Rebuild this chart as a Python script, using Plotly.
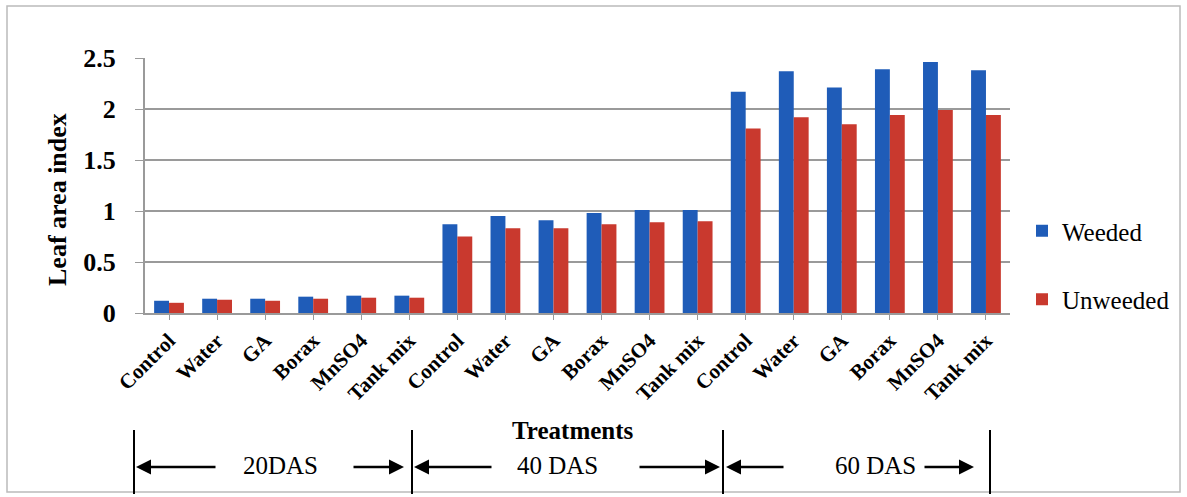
import plotly.graph_objects as go

treatments = ["Control", "Water", "GA", "Borax", "MnSO4", "Tank mix"]
periods = ["20DAS", "40 DAS", "60 DAS"]
tick_labels = treatments * 3

weeded = [0.12, 0.14, 0.14, 0.16, 0.17, 0.17,
          0.87, 0.95, 0.91, 0.98, 1.01, 1.01,
          2.17, 2.37, 2.21, 2.39, 2.46, 2.38]
unweeded = [0.10, 0.13, 0.12, 0.14, 0.15, 0.15,
            0.75, 0.83, 0.83, 0.87, 0.89, 0.90,
            1.81, 1.92, 1.85, 1.94, 1.99, 1.94]

xpos = list(range(len(tick_labels)))
FONT = "Liberation Serif, Times New Roman, DejaVu Serif, serif"

fig = go.Figure()
fig.add_trace(go.Bar(x=xpos, y=weeded, name="Weeded", marker_color="#1f5cb8",
                     marker_line_width=0, legendgroup="a"))
fig.add_trace(go.Bar(x=xpos, y=unweeded, name="Unweeded", marker_color="#c9392e",
                     marker_line_width=0, legendgroup="b"))

W, H = 1187, 497
ml, mr, mt, mb = 145, 177, 58, 184
pw, ph = W - ml - mr, H - mt - mb

def px2x(px):
    return (px - ml) / pw

def py2y(py):
    return (H - mb - py) / ph

shapes = []
shapes.append(dict(type="rect", xref="paper", yref="paper",
                   x0=px2x(7), x1=px2x(1180), y0=py2y(492), y1=py2y(6),
                   line=dict(color="#bbbbbb", width=1.5)))
for vx in [134, 412, 723, 990]:
    shapes.append(dict(type="line", xref="paper", yref="paper",
                       x0=px2x(vx), x1=px2x(vx), y0=py2y(430), y1=py2y(494),
                       line=dict(color="black", width=2)))

annotations = []
annotations.append(dict(text="<b>Leaf area index</b>", xref="paper", yref="paper",
                        x=px2x(57), y=py2y(200), xanchor="center", yanchor="middle",
                        textangle=-90, showarrow=False,
                        font=dict(family=FONT, size=26, color="black")))
annotations.append(dict(text="<b>Treatments</b>", xref="paper", yref="paper",
                        x=px2x(573), y=py2y(430), xanchor="center", yanchor="middle",
                        showarrow=False, font=dict(family=FONT, size=25, color="black")))
period_text_x = [280, 557, 875]
for t, tx in zip(periods, period_text_x):
    annotations.append(dict(text=t, xref="paper", yref="paper", x=px2x(tx), y=py2y(465),
                            xanchor="center", yanchor="middle", showarrow=False,
                            font=dict(family=FONT, size=25, color="black")))
arrows = [(136, 217), (404, 352), (414, 493), (720, 638), (726, 785), (974, 923)]
for tip, tail in arrows:
    annotations.append(dict(text="", xref="paper", yref="paper", x=px2x(tip), y=py2y(467),
                            ax=tail - tip, ay=0, showarrow=True, arrowhead=2,
                            arrowsize=1.2, arrowwidth=2.5, arrowcolor="black"))

fig.update_layout(
    width=W, height=H,
    margin=dict(l=ml, r=mr, t=mt, b=mb),
    paper_bgcolor="white", plot_bgcolor="white",
    barmode="group", bargap=0.38, bargroupgap=0.0,
    font=dict(family=FONT, color="black"),
    shapes=shapes, annotations=annotations,
    legend=dict(x=px2x(1022), y=py2y(208), xanchor="left", yanchor="top",
                font=dict(family=FONT, size=25, color="black"),
                tracegroupgap=33, bgcolor="rgba(0,0,0,0)"),
    showlegend=True,
)
fig.update_xaxes(tickmode="array", tickvals=xpos,
                 ticktext=["<b>%s</b>" % t for t in tick_labels], tickangle=-45,
                 tickfont=dict(family=FONT, size=21, color="black"),
                 range=[-0.5, len(xpos) - 0.5], showline=True, linecolor="#9a9a9a",
                 linewidth=2, ticks="outside", ticklen=5, tickcolor="#9a9a9a",
                 showgrid=False)
fig.update_yaxes(range=[0, 2.5], tickvals=[0, 0.5, 1, 1.5, 2, 2.5],
                 ticktext=["<b>0</b>", "<b>0.5</b>", "<b>1</b>", "<b>1.5</b>", "<b>2</b>", "<b>2.5</b>"],
                 tickfont=dict(family=FONT, size=26, color="black"),
                 showgrid=True, gridcolor="#9a9a9a", gridwidth=2,
                 showline=True, linecolor="#9a9a9a", linewidth=2,
                 ticks="outside", ticklen=8, tickcolor="#9a9a9a", ticklabelstandoff=14,
                 zeroline=False)

fig.write_html("out.html")
